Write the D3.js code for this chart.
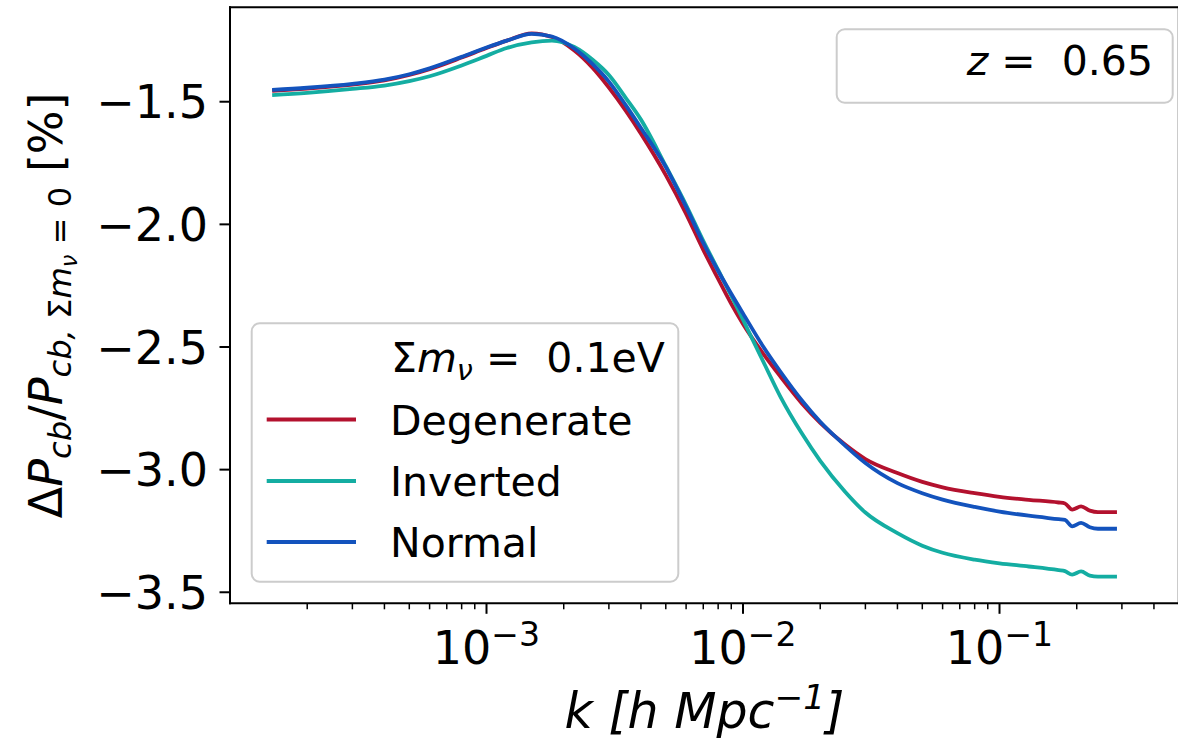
<!DOCTYPE html>
<html>
<head>
<meta charset="utf-8">
<script src="https://cdn.jsdelivr.net/npm/d3@7"></script>
<style>
  html, body { margin: 0; padding: 0; background: #ffffff; }
  svg { display: block; font-family: "DejaVu Sans", sans-serif; }
</style>
</head>
<body>
<svg id="chart" width="1178" height="742"></svg>
<script>
// ---------------- data ----------------
const kValues = [1.46e-4, 2e-4, 3e-4, 4e-4, 5e-4, 6e-4, 8e-4, 1e-3, 1.2e-3, 1.5e-3,
  1.8e-3, 2.2e-3, 2.6e-3, 3e-3, 3.5e-3, 4e-3, 5e-3, 6e-3, 7e-3, 8e-3,
  9e-3, 1e-2, 1.2e-2, 1.4e-2, 1.7e-2, 2e-2, 2.5e-2, 3e-2, 4e-2, 5e-2,
  6e-2, 8e-2, 0.1, 0.13, 0.17, 0.18, 0.192, 0.208, 0.225, 0.242, 0.287];

const degenerate = [-1.456, -1.446, -1.430, -1.413, -1.391, -1.367, -1.320, -1.281, -1.251, -1.221,
  -1.236, -1.291, -1.363, -1.442, -1.538, -1.630, -1.799, -1.957, -2.104, -2.222,
  -2.324, -2.406, -2.528, -2.621, -2.731, -2.809, -2.898, -2.957, -3.014, -3.050,
  -3.072, -3.096, -3.111, -3.123, -3.134, -3.138, -3.163, -3.150, -3.167, -3.173, -3.173];

const inverted = [-1.473, -1.464, -1.448, -1.434, -1.416, -1.396, -1.352, -1.313, -1.281, -1.258,
  -1.251, -1.277, -1.330, -1.391, -1.486, -1.573, -1.762, -1.921, -2.067, -2.186,
  -2.291, -2.389, -2.560, -2.703, -2.854, -2.964, -3.090, -3.175, -3.259, -3.310,
  -3.339, -3.367, -3.382, -3.395, -3.410, -3.414, -3.428, -3.415, -3.432, -3.436, -3.436];

const normal = [-1.452, -1.443, -1.427, -1.410, -1.388, -1.364, -1.317, -1.279, -1.251, -1.223,
  -1.234, -1.283, -1.348, -1.418, -1.516, -1.607, -1.766, -1.929, -2.076, -2.190,
  -2.283, -2.363, -2.499, -2.601, -2.719, -2.805, -2.902, -2.973, -3.055, -3.096,
  -3.122, -3.152, -3.171, -3.188, -3.202, -3.205, -3.231, -3.217, -3.235, -3.241, -3.241];

const seriesNames = ["Degenerate", "Inverted", "Normal"];
const seriesColors = ["#b3112e", "#14ada2", "#1353bd"];
const yTickValues = [-3.5, -3.0, -2.5, -2.0, -1.5];
const yTickLabels = ["\u22123.5", "\u22123.0", "\u22122.5", "\u22122.0", "\u22121.5"];
const xTickExponents = [-3, -2, -1];
const redshiftLabel = "0.65";
const massLabel = "0.1eV";

// ---------------- layout ----------------
const plotLeft = 230, plotRight = 1178.8, plotTop = 7.3, plotBottom = 603.3;
const tickFont = 46, labelFont = 49, legendFont = 41;

const svg = d3.select("#chart");

const x = d3.scaleLog().domain([1e-4, 0.5]).range([plotLeft, plotRight]);
const y = d3.scaleLinear().domain([-3.545, -1.115]).range([plotBottom, plotTop]);

svg.append("defs").append("clipPath").attr("id", "clip")
  .append("rect").attr("x", plotLeft).attr("y", plotTop)
  .attr("width", plotRight - plotLeft).attr("height", plotBottom - plotTop);

// ---------------- lines ----------------
const seriesData = [degenerate, inverted, normal];
const line = d3.line()
  .x(d => x(d[0]))
  .y(d => y(d[1]))
  .curve(d3.curveMonotoneX);

const gLines = svg.append("g").attr("clip-path", "url(#clip)");
seriesData.forEach((vals, i) => {
  gLines.append("path")
    .datum(kValues.map((k, j) => [k, vals[j]]))
    .attr("fill", "none")
    .attr("stroke", seriesColors[i])
    .attr("stroke-width", 3.8)
    .attr("stroke-linejoin", "round")
    .attr("stroke-linecap", "butt")
    .attr("d", line);
});

// ---------------- axes ----------------
const axisG = svg.append("g");
const minorTicks = [];
for (let e = -4; e <= -1; e++) {
  for (let m = 2; m <= 9; m++) {
    const v = m * Math.pow(10, e);
    if (v > 1e-4 && v < 0.5) minorTicks.push(v);
  }
}
axisG.selectAll("line.xminor").data(minorTicks).enter().append("line")
  .attr("x1", d => x(d)).attr("x2", d => x(d))
  .attr("y1", plotBottom).attr("y2", plotBottom + 6)
  .attr("stroke", "#000").attr("stroke-width", 1.5);
axisG.selectAll("line.xmajor").data(xTickExponents).enter().append("line")
  .attr("x1", d => x(Math.pow(10, d))).attr("x2", d => x(Math.pow(10, d)))
  .attr("y1", plotBottom).attr("y2", plotBottom + 10.5)
  .attr("stroke", "#000").attr("stroke-width", 2);

xTickExponents.forEach(e => {
  const t = axisG.append("text")
    .attr("x", x(Math.pow(10, e)))
    .attr("y", 664)
    .attr("text-anchor", "middle")
    .attr("font-size", tickFont)
    .attr("fill", "#000");
  t.append("tspan").text("10");
  t.append("tspan").attr("font-size", tickFont * 0.72).attr("dy", -tickFont * 0.4)
    .text("\u2212" + Math.abs(e));
});

axisG.selectAll("line.ytick").data(yTickValues).enter().append("line")
  .attr("x1", plotLeft - 10.5).attr("x2", plotLeft)
  .attr("y1", d => y(d)).attr("y2", d => y(d))
  .attr("stroke", "#000").attr("stroke-width", 2);
axisG.selectAll("text.ytick").data(yTickValues).enter().append("text")
  .attr("x", 208)
  .attr("y", d => y(d) + tickFont * 0.3645)
  .attr("text-anchor", "end")
  .attr("font-size", tickFont)
  .attr("fill", "#000")
  .text((d, i) => yTickLabels[i]);

// spines
[[plotLeft, plotTop, plotLeft, plotBottom], [plotLeft, plotBottom, plotRight, plotBottom],
 [plotLeft, plotTop, plotRight, plotTop], [plotRight, plotTop, plotRight, plotBottom]].forEach(s => {
  axisG.append("line").attr("x1", s[0]).attr("y1", s[1]).attr("x2", s[2]).attr("y2", s[3])
    .attr("stroke", "#000").attr("stroke-width", 2).attr("stroke-linecap", "square");
});

// x axis label: k [h Mpc^-1]
const xl = svg.append("text")
  .attr("x", (plotLeft + plotRight) / 2)
  .attr("y", 728)
  .attr("text-anchor", "middle")
  .attr("font-size", labelFont)
  .attr("fill", "#000");
xl.append("tspan").attr("font-style", "italic").text("k\u00a0[h\u00a0Mpc");
xl.append("tspan").attr("font-style", "italic").attr("font-size", labelFont * 0.7).attr("dy", -labelFont * 0.38).text("\u22121");
xl.append("tspan").attr("font-style", "italic").attr("dy", labelFont * 0.38).text("]");

// y axis label
const yl = svg.append("text")
  .attr("transform", `translate(62, ${(plotTop + plotBottom) / 2}) rotate(-90)`)
  .attr("text-anchor", "middle")
  .attr("font-size", 46)
  .attr("fill", "#000");
const yf = 46, sub = yf * 0.7, subsub = yf * 0.49;
yl.append("tspan").text("\u0394");
yl.append("tspan").attr("font-style", "italic").text("P");
yl.append("tspan").attr("font-style", "italic").attr("font-size", sub).attr("dy", yf * 0.2).text("cb");
yl.append("tspan").attr("dy", -yf * 0.2).text("/");
yl.append("tspan").attr("font-style", "italic").text("P");
yl.append("tspan").attr("font-style", "italic").attr("font-size", sub).attr("dy", yf * 0.2).text("cb,\u00a0");
yl.append("tspan").attr("font-size", sub).text("\u03A3");
yl.append("tspan").attr("font-style", "italic").attr("font-size", sub).text("m");
yl.append("tspan").attr("font-style", "italic").attr("font-size", subsub).attr("dy", yf * 0.12).text("\u03BD");
yl.append("tspan").attr("font-size", sub).attr("dy", -yf * 0.12).text("\u00a0=\u00a00");
yl.append("tspan").attr("dy", -yf * 0.2).text("\u00a0[%]");

// ---------------- legend (series) ----------------
const leg = svg.append("g");
leg.append("rect")
  .attr("x", 251.7).attr("y", 323.3).attr("width", 426.6).attr("height", 258.4)
  .attr("rx", 8).attr("ry", 8)
  .attr("fill", "#ffffff").attr("fill-opacity", 0.85)
  .attr("stroke", "#cccccc").attr("stroke-width", 2);
const hdr = leg.append("text").attr("x", 391).attr("y", 372).attr("font-size", legendFont).attr("fill", "#000");
hdr.append("tspan").text("\u03A3");
hdr.append("tspan").attr("font-style", "italic").text("m");
hdr.append("tspan").attr("font-style", "italic").attr("font-size", legendFont * 0.7).attr("dy", legendFont * 0.2).text("\u03BD");
hdr.append("tspan").attr("dy", -legendFont * 0.2).text("\u00a0=\u00a0\u00a0" + massLabel);

const rowBase = [434.5, 496, 557];
seriesNames.forEach((name, i) => {
  leg.append("line")
    .attr("x1", 266.7).attr("x2", 356)
    .attr("y1", rowBase[i] - 15).attr("y2", rowBase[i] - 15)
    .attr("stroke", seriesColors[i]).attr("stroke-width", 3.8);
  leg.append("text")
    .attr("x", 390).attr("y", rowBase[i])
    .attr("font-size", legendFont).attr("fill", "#000")
    .text(name);
});

// ---------------- redshift box ----------------
const zb = svg.append("g");
zb.append("rect")
  .attr("x", 836.7).attr("y", 29.3).attr("width", 336).attr("height", 73.4)
  .attr("rx", 8).attr("ry", 8)
  .attr("fill", "#ffffff").attr("fill-opacity", 0.85)
  .attr("stroke", "#cccccc").attr("stroke-width", 2);
const zt = zb.append("text").attr("x", 1153).attr("y", 75).attr("text-anchor", "end")
  .attr("font-size", legendFont).attr("fill", "#000");
zt.append("tspan").attr("font-style", "italic").text("z");
zt.append("tspan").text("\u00a0=\u00a0\u00a0" + redshiftLabel);
</script>
</body>
</html>
